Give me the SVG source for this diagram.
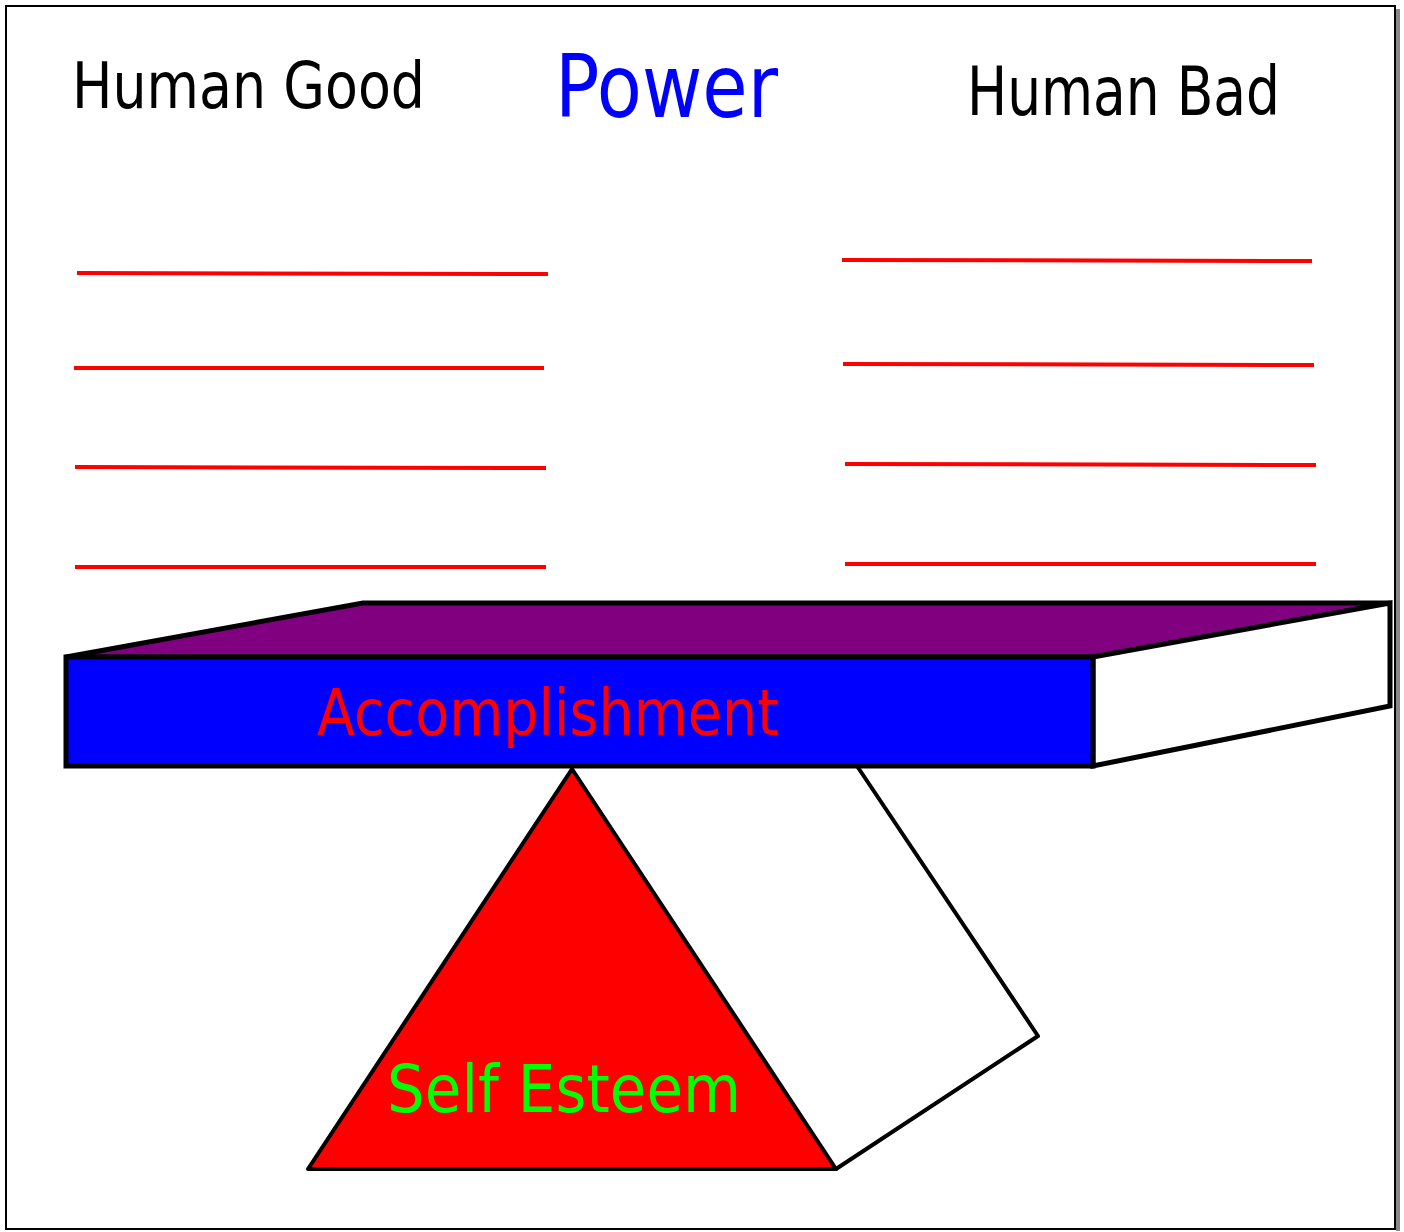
<svg xmlns="http://www.w3.org/2000/svg" width="1404" height="1232" viewBox="0 0 1404 1232">
<style>
.t{font-family:"DejaVu Sans","Liberation Sans",sans-serif;}
.rl{stroke:#ff0000;stroke-width:4;fill:none;}
.sh{stroke:#000;stroke-width:5;stroke-linejoin:miter;}
.tr{stroke:#000;stroke-width:4;stroke-linejoin:round;}
</style>
<rect width="1404" height="1232" fill="#fff"/>
<rect x="1396" y="9" width="4" height="1222" fill="#888"/>
<rect x="6" y="6" width="1389" height="1223" fill="#fff" stroke="#000" stroke-width="2"/>
<g id="title-good"><text class="t" x="72" y="108" font-size="64" textLength="353" lengthAdjust="spacingAndGlyphs">Human Good</text></g>
<g id="title-power"><text class="t" x="555" y="117" font-size="88" fill="#0000ff" textLength="223" lengthAdjust="spacingAndGlyphs">Power</text></g>
<g id="title-bad"><text class="t" x="967" y="115" font-size="68" textLength="313" lengthAdjust="spacingAndGlyphs">Human Bad</text></g>
<g id="lines-good">
<line class="rl" x1="77" y1="273" x2="548" y2="274"/>
<line class="rl" x1="74" y1="368" x2="544" y2="368"/>
<line class="rl" x1="75" y1="467" x2="546" y2="468"/>
<line class="rl" x1="75" y1="567" x2="546" y2="567"/>
</g>
<g id="lines-bad">
<line class="rl" x1="842" y1="260" x2="1312" y2="261"/>
<line class="rl" x1="843" y1="364" x2="1314" y2="365"/>
<line class="rl" x1="845" y1="464" x2="1316" y2="465"/>
<line class="rl" x1="845" y1="564" x2="1316" y2="564"/>
</g>
<g id="fulcrum">
<polygon points="572,766 857,766 1038,1036 836,1169" fill="#fff"/>
<polyline class="tr" points="857,766 1038,1036 836,1169" fill="none"/>
<polygon class="tr" points="308,1169 572,769 836,1169" fill="#ff0000"/>
<text class="t" x="387" y="1112" font-size="66" fill="#00ff00" textLength="354" lengthAdjust="spacingAndGlyphs">Self Esteem</text>
</g>
<g id="plank">
<polygon class="sh" points="66,657 363,603 1390,603 1093,657" fill="#800080"/>
<polygon class="sh" points="1093,657 1390,603 1390,706 1093,766" fill="#fff"/>
<rect class="sh" x="66" y="657" width="1027" height="109" fill="#0000ff"/>
<text class="t" x="317" y="735" font-size="64" fill="#ff0000" textLength="462" lengthAdjust="spacingAndGlyphs">Accomplishment</text>
</g>
</svg>
